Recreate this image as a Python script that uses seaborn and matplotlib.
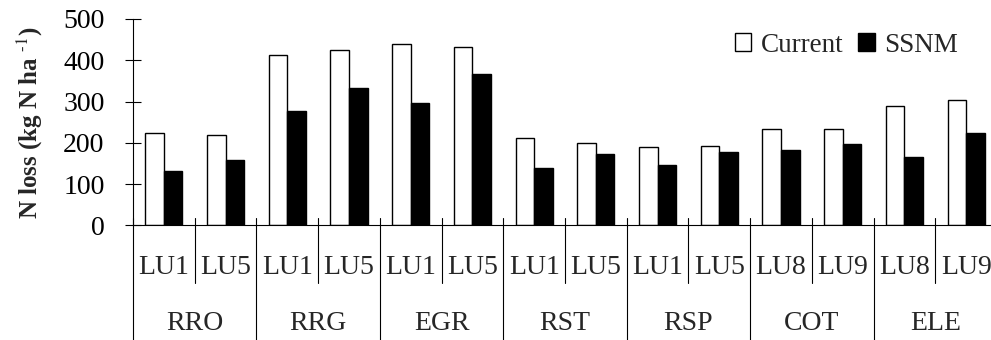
import numpy as np
import matplotlib
matplotlib.use('Agg')
import matplotlib.pyplot as plt
from matplotlib.patches import Patch
import seaborn as sns
import pandas as pd

# data
groups = ['RRO', 'RRG', 'EGR', 'RST', 'RSP', 'COT', 'ELE']
units = ['LU1', 'LU5', 'LU1', 'LU5', 'LU1', 'LU5', 'LU1', 'LU5',
         'LU1', 'LU5', 'LU8', 'LU9', 'LU8', 'LU9']
current = [223, 219, 413, 424, 440, 432, 212, 200, 189, 192, 234, 234, 288, 304]
ssnm = [131, 158, 278, 332, 297, 367, 139, 174, 147, 178, 182, 197, 166, 224]
series = ['Current', 'SSNM']
yticks = [0, 100, 200, 300, 400, 500]

sns.set_style('white')
plt.rcParams['font.family'] = ['Liberation Serif', 'DejaVu Serif']
plt.rcParams['mathtext.fontset'] = 'stix'

keys = []
for i, u in enumerate(units):
    keys.append(groups[i // 2] + ' ' + u)

df = pd.DataFrame({
    'key': keys * 2,
    'value': current + ssnm,
    'series': [series[0]] * len(current) + [series[1]] * len(ssnm),
})

fig = plt.figure(figsize=(9.91, 3.40), dpi=100)
ax = fig.add_axes([133 / 991, 1 - 225.3 / 340, 864 / 991, 206.3 / 340])

sns.barplot(data=df, x='key', y='value', hue='series', order=keys,
            hue_order=series, palette=['white', 'black'], edgecolor='black',
            linewidth=1.0, width=0.6, gap=0, saturation=1, legend=False, ax=ax)

ax.set_xlim(-0.5, len(keys) - 0.5)
ax.set_ylim(0, 500)
ax.set_yticks(yticks)
ax.set_xticks([])
ax.set_xlabel('')
ax.set_ylabel(r'N loss (kg N ha $^{\mathbf{\text{-1}}}$)', fontsize=18,
              fontweight='bold', labelpad=13)
ax.tick_params(axis='y', direction='inout', length=11, width=0.8, pad=15,
               labelsize=20, colors='black', left=True)
for s in ['top', 'right']:
    ax.spines[s].set_visible(False)
for s in ['left', 'bottom']:
    ax.spines[s].set_color('black')
    ax.spines[s].set_linewidth(0.8)

# category axis drawn below the plot
tr = ax.get_xaxis_transform()
for i in range(len(keys) + 1):
    x = i - 0.5
    low = -0.56 if i % 2 == 0 else -0.28
    ax.plot([x, x], [0.035, low], color='black', lw=0.8, transform=tr,
            clip_on=False)
for i, u in enumerate(units):
    ax.text(i, -0.205, u, transform=tr, ha='center', va='center', fontsize=20)
for j, g in enumerate(groups):
    ax.text(2 * j + 0.5, -0.478, g, transform=tr, ha='center', va='center',
            fontsize=20)

handles = [Patch(facecolor='white', edgecolor='black', lw=1.0),
           Patch(facecolor='black', edgecolor='black', lw=1.0)]
fig.legend(handles, series, loc='center left',
           bbox_to_anchor=(735 / 991, 1 - 45 / 340), ncol=2, frameon=False,
           fontsize=19.5, handlelength=0.6, handleheight=0.6, handletextpad=0.35,
           columnspacing=0.55, borderpad=0, borderaxespad=0)

fig.savefig('out.png', dpi=100)
